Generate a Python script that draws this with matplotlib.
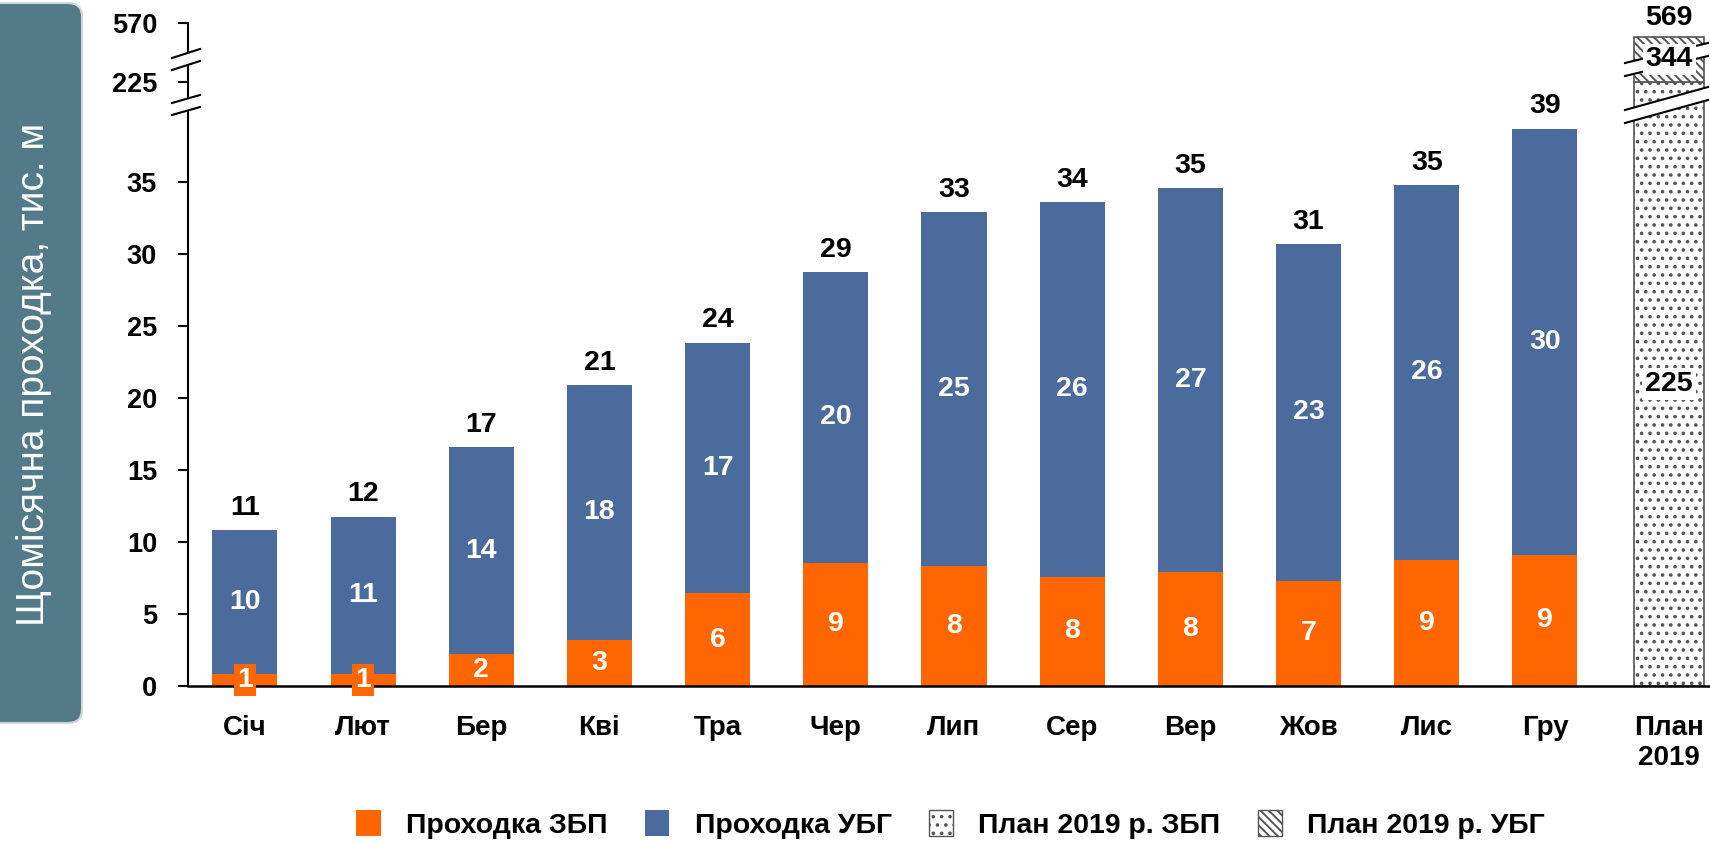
import numpy as np
import matplotlib
matplotlib.use('Agg')
import matplotlib.pyplot as plt
from matplotlib.patches import Patch, Polygon, FancyBboxPatch
from matplotlib.lines import Line2D
from matplotlib.transforms import Affine2D

plt.rcParams['font.family'] = ['Liberation Sans', 'DejaVu Sans']
plt.rcParams['hatch.linewidth'] = 1.4

# --- data ---
months = ['Січ', 'Лют', 'Бер', 'Кві', 'Тра', 'Чер', 'Лип', 'Сер', 'Вер', 'Жов', 'Лис', 'Гру']
zbp = [0.83, 0.83, 2.2, 3.2, 6.45, 8.55, 8.3, 7.6, 7.9, 7.3, 8.75, 9.1]
ubg = [10.0, 10.93, 14.4, 17.7, 17.4, 20.2, 24.6, 26.0, 26.7, 23.4, 26.05, 29.6]
plan_label = 'План\n2019'
plan_zbp = 225
plan_ubg = 344
ytick_vals = [0, 5, 10, 15, 20, 25, 30, 35, 225, 570]

ORANGE = '#FF6600'
BLUE = '#4A6B9B'
BOXC = '#527A89'
W, H = 1710, 841

# broken y axis: linear up to ~40, then squeezed pieces for the plan values
y_knots = [0, 40.4, 225, 569, 570]
f_knots = [0, 40.4, 41.95, 45.07, 46.04]

def fwd(y):
    return np.interp(y, y_knots, f_knots)

def inv(f):
    return np.interp(f, f_knots, y_knots)

fig = plt.figure(figsize=(W / 100, H / 100), dpi=100)
ax = fig.add_axes([187.6 / W, (H - 686) / H, 1 - 187.6 / W, (686 - 23) / H])
ax.set_yscale('function', functions=(fwd, inv))
ax.set_ylim(0, 570)

pos = np.arange(len(months))
plan_pos = 12.05
ax.set_xlim(-0.484, 12.396)

ax.bar(pos, zbp, 0.55, color=ORANGE, zorder=2)
ax.bar(pos, ubg, 0.55, bottom=zbp, color=BLUE, zorder=2)
ax.bar(plan_pos, plan_zbp, 0.59, color='white', edgecolor='#555555', hatch='..', lw=1.2, zorder=2)
ax.bar(plan_pos, plan_ubg, 0.59, bottom=plan_zbp, color='white', edgecolor='#555555',
       hatch='\\\\\\\\', lw=1.2, zorder=2)

lab = dict(fontsize=20.5, fontweight='bold', ha='center', va='center', zorder=6)
for i in range(len(months)):
    tot = zbp[i] + ubg[i]
    # tiny orange segments get a box so the white number stays readable
    box = dict(boxstyle='square,pad=0.12', fc=ORANGE, ec='none') if zbp[i] < 1.5 else None
    ax.text(pos[i], zbp[i] / 2, f'{zbp[i]:.0f}', color='white', bbox=box, **lab)
    ax.text(pos[i], zbp[i] + ubg[i] / 2, f'{ubg[i]:.0f}', color='white', **lab)
    ax.annotate(f'{tot:.0f}', (pos[i], tot), xytext=(0, 16), textcoords='offset points', **lab)

ax.text(plan_pos, inv(fwd(plan_zbp) / 2), f'{plan_zbp}',
        bbox=dict(boxstyle='square,pad=0.1', fc='white', ec='none'), **lab)
ax.text(plan_pos, inv((fwd(plan_zbp) + fwd(plan_zbp + plan_ubg)) / 2), f'{plan_ubg}',
        bbox=dict(boxstyle='square,pad=0.1', fc='white', ec='none'), **lab)
ax.annotate(f'{plan_zbp + plan_ubg}', (plan_pos, plan_zbp + plan_ubg), xytext=(0, 14),
            textcoords='offset points', **lab)

ax.set_yticks(ytick_vals)
ax.set_yticklabels([str(v) for v in ytick_vals], fontsize=19.5, fontweight='bold')
ax.set_xticks(list(pos) + [plan_pos])
ax.set_xticklabels(months + [plan_label], fontsize=20, fontweight='bold', va='top')
ax.tick_params(axis='y', length=7, width=1.5, pad=15)
ax.tick_params(axis='x', length=0, pad=21)
for s in ['top', 'right']:
    ax.spines[s].set_visible(False)
ax.spines['left'].set_linewidth(1.5)
ax.spines['bottom'].set_linewidth(1.8)
ax.patch.set_alpha(0)

# break marks, in pixel coordinates measured from the top-left corner
px = Affine2D().scale(1, -1).translate(0, H)

def brk(x0, x1, yl, yr, gap):
    ax.add_patch(Polygon([(x0, yl), (x1, yr), (x1, yr + gap), (x0, yl + gap)], closed=True,
                         fc='white', ec='none', transform=px, clip_on=False, zorder=4))
    for d in (0, gap):
        ax.add_line(Line2D([x0, x1], [yl + d, yr + d], color='black', lw=1.5,
                           transform=px, clip_on=False, zorder=5))

brk(172, 200, 58, 49, 12)
brk(172, 200, 103, 95, 12)
brk(1625, 1708, 63, 43, 13)
brk(1625, 1708, 110, 87, 13)

# y-axis title box
fig.patches.append(FancyBboxPatch((-20, 3), 102, 720, boxstyle='round,pad=0,rounding_size=14',
                                  fc=BOXC, ec='#d4d4d4', lw=1.5, transform=px, figure=fig))
fig.text(34 / W, 1 - 374 / H, 'Щомісячна проходка, тис. м', rotation=90, color='white',
         fontsize=28, ha='center', va='center')

handles = [Patch(fc=ORANGE, ec='none'), Patch(fc=BLUE, ec='none'),
           Patch(fc='white', ec='#555555', hatch='..'),
           Patch(fc='white', ec='#555555', hatch='\\\\\\\\')]
names = ['Проходка ЗБП', 'Проходка УБГ', 'План 2019 р. ЗБП', 'План 2019 р. УБГ']
fig.legend(handles, names, loc='lower center', bbox_to_anchor=(0.556, -0.028), ncol=4,
           frameon=False, prop=dict(size=20.5, weight='bold'), handlelength=0.85,
           handleheight=1.0, handletextpad=0.9, columnspacing=1.3)

fig.savefig('out.png', dpi=100)
